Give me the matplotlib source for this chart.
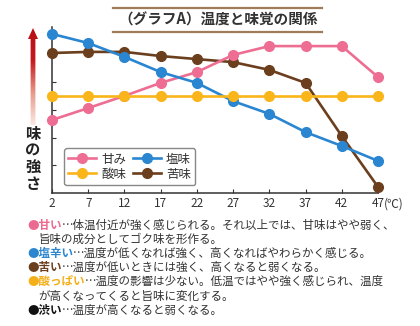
import numpy as np
import matplotlib
matplotlib.use("Agg")
import matplotlib.pyplot as plt
from matplotlib.colors import LinearSegmentedColormap
from matplotlib.patches import Polygon
from matplotlib.lines import Line2D

plt.rcParams['font.family'] = ['Noto Sans CJK JP', 'DejaVu Sans']

# data (taste strength, arbitrary units)
temps = [2, 7, 12, 17, 22, 27, 32, 37, 42, 47]
sweet = [2.64, 3.07, 3.51, 3.98, 4.37, 4.99, 5.31, 5.31, 5.31, 4.19]
salty = [5.75, 5.42, 4.92, 4.37, 3.98, 3.32, 2.86, 2.20, 1.70, 1.16]
sour = [3.5, 3.5, 3.5, 3.5, 3.5, 3.5, 3.5, 3.5, 3.5, 3.5]
bitter = [5.06, 5.10, 5.10, 4.95, 4.84, 4.73, 4.45, 3.98, 2.06, 0.22]

title = "（グラフA）温度と味覚の関係"
notes = [
    ("●甘い", "…体温付近が強く感じられる。それ以上では、甘味はやや弱く、", "#ec6a8f"),
    ("", "旨味の成分としてゴク味を形作る。", None),
    ("●塩辛い", "…温度が低くなれば強く、高くなればやわらかく感じる。", "#2b86cf"),
    ("●苦い", "…温度が低いときには強く、高くなると弱くなる。", "#6b3f1e"),
    ("●酸っぱい", "…温度の影響は少ない。低温ではやや強く感じられ、温度", "#f5af19"),
    ("", "が高くなってくると旨味に変化する。", None),
    ("●渋い", "…温度が高くなると弱くなる。", "#111111"),
]

W, H = 420, 326
fig = plt.figure(figsize=(W / 100, H / 100), dpi=100)
fig.patch.set_facecolor("white")

ax = fig.add_axes([52 / W, 1 - 193 / H, 326 / W, 166 / H])
ms, lw = 7, 1.9
ax.plot(temps, bitter, "-o", color="#6b3f1e", lw=lw, ms=ms, label="苦味", clip_on=False, zorder=3)
ax.plot(temps, sweet, "-o", color="#ee6e93", lw=lw, ms=ms, label="甘み", clip_on=False, zorder=4)
ax.plot(temps, salty, "-o", color="#2a86d1", lw=lw, ms=ms, label="塩味", clip_on=False, zorder=5)
ax.plot(temps, sour, "-o", color="#f9b51a", lw=lw, ms=ms, label="酸味", clip_on=False, zorder=6)

ax.set_xlim(2, 47)
ax.set_ylim(0, 6)
ax.set_xticks(temps)
ax.set_yticks([1, 2, 3, 4])
ax.set_yticklabels([])
for s in ["top", "right"]:
    ax.spines[s].set_visible(False)
for s in ["left", "bottom"]:
    ax.spines[s].set_color("#333333")
    ax.spines[s].set_linewidth(1.1)
ax.tick_params(direction="in", length=3, color="#333333", labelsize=8.5,
               labelcolor="#333333", pad=3)
ax.annotate("(℃)", xy=(47, 0), xycoords=("data", "axes fraction"),
            xytext=(4, -3), textcoords="offset points", ha="left", va="top",
            fontsize=8.5, color="#333333", annotation_clip=False)

hd = {l.get_label(): l for l in ax.get_lines()}
order = ["甘み", "酸味", "塩味", "苦味"]
leg = ax.legend([hd[k] for k in order], order, ncol=2, loc="lower left",
                bbox_to_anchor=(0.037, 0.048), borderaxespad=0, fontsize=9,
                handlelength=2.2, columnspacing=0.6, handletextpad=0.4,
                labelspacing=0.15, borderpad=0.35, fancybox=True, framealpha=1)
leg.get_frame().set_edgecolor("#888888")
leg.get_frame().set_linewidth(1.0)
for t in leg.get_texts():
    t.set_color("#333333")

# gradient arrow on the left
ax_arr = fig.add_axes([28 / W, 1 - 125 / H, 10 / W, 97 / H])
ax_arr.set_xlim(0, 10)
ax_arr.set_ylim(0, 97)
ax_arr.axis("off")
cmap = LinearSegmentedColormap.from_list("arr", ["#fbe9e2", "#e79a8a", "#c41a1e", "#b80f16"])
grad = np.linspace(0, 1, 200).reshape(-1, 1)
im = ax_arr.imshow(grad, extent=(0, 10, 0, 97), origin="lower", cmap=cmap, aspect="auto")
poly = Polygon([(2.6, 0), (7.4, 0), (7.4, 86), (10, 86), (5, 97), (0, 86), (2.6, 86)],
               closed=True, facecolor="none", edgecolor="none")
ax_arr.add_patch(poly)
im.set_clip_path(poly)

fig.text(33 / W, 1 - 159 / H, "味\nの\n強\nさ", ha="center", va="center",
         fontsize=11, fontweight="bold", linespacing=1.05, color="#222222")

# title with rules
fig.text(218 / W, 1 - 20 / H, title, ha="center", va="center", fontsize=10.5,
         fontweight="bold", color="#333333")
for yy in (8, 32):
    fig.add_artist(Line2D([113 / W, 322 / W], [1 - yy / H, 1 - yy / H],
                          color="#a07b5a", lw=1.6))

# notes below the chart
fs = 8.3
for i, (head, body, col) in enumerate(notes):
    y = 1 - (225 + 14.2 * i) / H
    if head:
        t1 = fig.text(27 / W, y, head, color=col, fontsize=fs, fontweight="bold", va="center")
        ax.annotate(body, xy=(1, 0.5), xycoords=t1, ha="left", va="center",
                    fontsize=fs, color="#333333", annotation_clip=False)
    else:
        fig.text(38 / W, y, body, fontsize=fs, color="#333333", va="center")

plt.savefig("out.png", dpi=100)
